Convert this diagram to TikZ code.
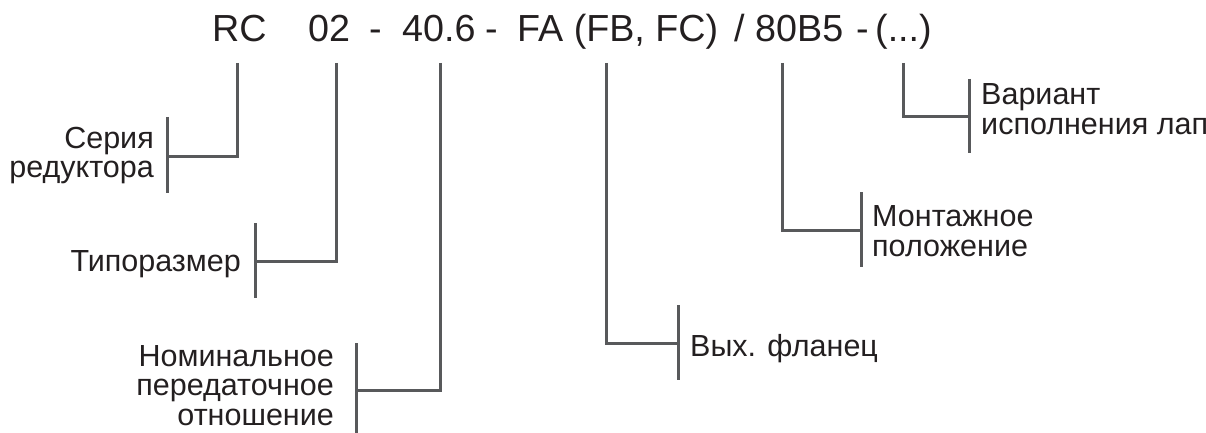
\documentclass[tikz,border=0pt]{standalone}
\usepackage{fontspec}
\setmainfont{Liberation Sans}
\definecolor{lnc}{HTML}{58595B}
\definecolor{txc}{HTML}{231F20}
\begin{document}
\begin{tikzpicture}[x=1pt,y=-1pt,
  conn/.style={draw=lnc, line width=3pt},
  code/.style={anchor=base west, inner sep=0pt, text=txc, font=\fontsize{37.7}{40}\selectfont},
  lbl/.style={inner sep=0pt, text=txc, font=\fontsize{30.5}{29.5}\selectfont}]
\useasboundingbox (0,0) rectangle (1206,433);
% code line
\node[code] (c1) at (212,42) {RC};
\node[code] (c2) at (308,42) {02};
\node[code] (c3) at (369,42) {-};
\node[code] (c4) at (402,42) {40.6};
\node[code] (c5) at (485,42) {-};
\node[code] (c6) at (517,42) {FA (FB, FC)};
\node[code] (c7) at (734,42) {/};
\node[code] (c8) at (755,42) {80B5};
\node[code] (c9) at (856,42) {-};
\node[code] (c10) at (875,42) {(...)};
% labels (base anchor = baseline of last line)
\node[lbl, align=right, anchor=base east] (l1) at (154,177.5) {Серия\\редуктора};
\node[lbl, anchor=base east] (l2) at (241,271) {Типоразмер};
\node[lbl, align=right, anchor=base east] (l3) at (334,425) {Номинальное\\передаточное\\отношение};
\node[lbl, anchor=base west] (l4) at (690,356) {Вых. фланец};
\node[lbl, align=left, anchor=base west] (l5) at (872,256) {Монтажное\\положение};
\node[lbl, align=left, anchor=base west] (l6) at (981,134) {Вариант\\исполнения лап};
% trunk tops
\coordinate (t1) at (237,63);
\coordinate (t2) at (336,63);
\coordinate (t3) at (440,63);
\coordinate (t4) at (606,63);
\coordinate (t5) at (782,63);
\coordinate (t6) at (903,63);
% bracket mid points and ends
\coordinate (m1) at (167,156); \coordinate (u1) at (167,117); \coordinate (d1) at (167,193);
\coordinate (m2) at (255,261); \coordinate (u2) at (255,223); \coordinate (d2) at (255,298);
\coordinate (m3) at (356,390); \coordinate (u3) at (356,343); \coordinate (d3) at (356,433);
\coordinate (m4) at (678,343); \coordinate (u4) at (678,305); \coordinate (d4) at (678,380);
\coordinate (m5) at (861,230); \coordinate (u5) at (861,192); \coordinate (d5) at (861,267);
\coordinate (m6) at (969,117); \coordinate (u6) at (969,79); \coordinate (d6) at (969,153);
\foreach \i in {1,...,6}{
  \draw[conn] (t\i) |- (m\i);
  \draw[conn] (u\i) -- (d\i);
}
\end{tikzpicture}
\end{document}
